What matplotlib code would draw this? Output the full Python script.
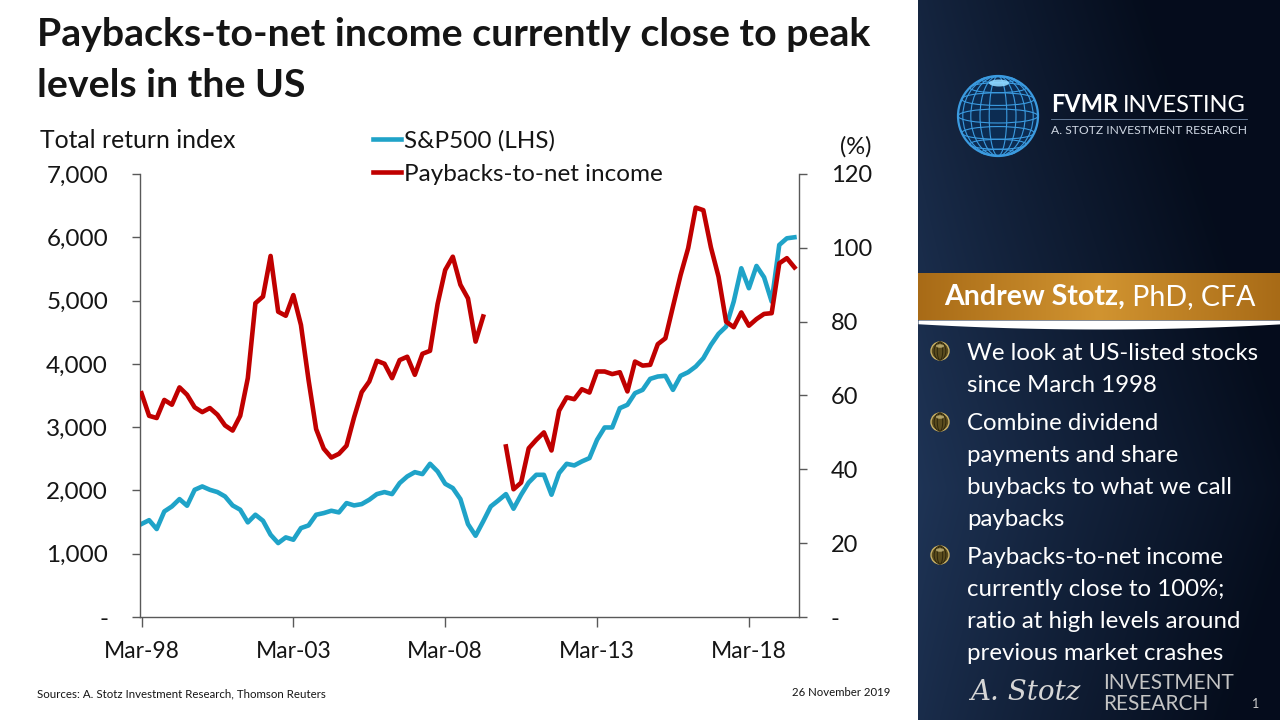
import numpy as np
import pandas as pd
import matplotlib
matplotlib.use('Agg')
import matplotlib.pyplot as plt
from matplotlib.patches import Circle, Ellipse
from matplotlib.lines import Line2D

# ---------------- data ----------------
quarters = pd.period_range('1998Q1', '2019Q3', freq='Q')

sp500 = [1470, 1530, 1390, 1668, 1747, 1863, 1758, 2010, 2063, 2010,
         1974, 1905, 1763, 1695, 1495, 1616, 1521, 1300, 1168, 1258,
         1221, 1405, 1447, 1616, 1642, 1679, 1653, 1800, 1763, 1784,
         1853, 1942, 1974, 1942, 2116, 2221, 2289, 2258, 2421, 2300,
         2105, 2037, 1863, 1468, 1284, 1510, 1747, 1842, 1942, 1711,
         1932, 2126, 2247, 2247, 1932, 2274, 2421, 2395, 2458, 2511,
         2800, 2995, 2995, 3300, 3353, 3537, 3589, 3763, 3800, 3811,
         3589, 3811, 3868, 3958, 4089, 4300, 4474, 4589, 4984, 5511,
         5195, 5547, 5368, 4984, 5879, 5984, 6000]

paybacks = [60.6, 54.5, 53.9, 58.8, 57.5, 62.2, 60.2, 56.8, 55.5, 56.6,
            54.8, 51.9, 50.5, 54.5, 64.7, 85.0, 86.8, 97.8, 82.7, 81.6,
            87.2, 79.1, 64.2, 50.9, 45.6, 43.2, 44.2, 46.4, 54.1, 60.9,
            63.8, 69.4, 68.6, 64.7, 69.6, 70.5, 65.6, 71.3, 72.1, 84.8,
            94.0, 97.6, 90.0, 86.3, 74.6, 81.4, np.nan, np.nan, 46.2, 34.6,
            36.4, 45.7, 48.0, 50.0, 45.1, 55.9, 59.5, 59.0, 61.7, 60.8,
            66.5, 66.5, 65.8, 66.3, 61.1, 69.2, 68.1, 68.3, 73.9, 75.5,
            84.1, 92.6, 99.9, 110.9, 110.2, 100.1, 92.2, 80.0, 78.5, 82.5,
            78.9, 80.7, 82.1, 82.3, 95.8, 97.2, 94.7]

series_names = ['S&P500 (LHS)', 'Paybacks-to-net income']
x_tick_quarters = ['1998Q1', '2003Q1', '2008Q1', '2013Q1', '2018Q1']
left_ticks = [0, 1000, 2000, 3000, 4000, 5000, 6000, 7000]
left_labels = ['-', '1,000', '2,000', '3,000', '4,000', '5,000', '6,000', '7,000']
right_ticks = [0, 20, 40, 60, 80, 100, 120]
right_labels = ['-', '20', '40', '60', '80', '100', '120']

title_lines = ['Paybacks-to-net income currently close to peak', 'levels in the US']
bullets = [
    ['We look at US-listed stocks', 'since March 1998'],
    ['Combine dividend', 'payments and share', 'buybacks to what we call', 'paybacks'],
    ['Paybacks-to-net income', 'currently close to 100%;', 'ratio at high levels around',
     'previous market crashes'],
]

# ---------------- figure ----------------
W, H = 1280, 720
plt.rcParams['font.family'] = ['Lato', 'DejaVu Sans']
fig = plt.figure(figsize=(12.8, 7.2), dpi=100)
fig.patch.set_facecolor('white')

TEAL = '#1FA3C8'
RED = '#C00000'
AXC = '#595959'
TXT = '#151515'

def fx(x):
    return x / W

def fy(y):
    return 1 - y / H

# decoration layer in pixel coordinates
deco = fig.add_axes([0, 0, 1, 1], zorder=0)
deco.axis('off')

# right panel gradient
PX0 = 918
nx, ny = 240, 240
xx = np.linspace(0, 1, nx)[None, :]
yy = np.linspace(0, 1, ny)[:, None]
light = np.array([0.13, 0.22, 0.36])
dark = np.array([0.02, 0.05, 0.11])
t = np.clip(0.10 + 0.85 * xx ** 0.9 + 0.50 * np.abs(yy - 0.68), 0, 1)
img = light[None, None, :] * (1 - t[..., None]) + dark[None, None, :] * t[..., None]
deco.imshow(img, extent=(PX0, W, H, 0), aspect='auto', zorder=0, interpolation='bilinear')

# orange name bar
ob = np.linspace(0, 1, 200)[None, :]
c1 = np.array([0.66, 0.42, 0.09])
c2 = np.array([0.82, 0.58, 0.19])
tt = 1 - np.abs(ob - 0.5) * 2
oimg = (c1[None, None, :] * (1 - tt[..., None]) + c2[None, None, :] * tt[..., None])
oimg = np.repeat(oimg, 10, axis=0)
deco.imshow(oimg, extent=(PX0, W, 320, 273), aspect='auto', zorder=1, interpolation='bilinear')

# white swoosh under bar
xs = np.linspace(PX0, W, 200)
deco.fill_between(xs, 320, 322 + 7 * np.clip(1 - ((xs - 1100) / 210) ** 2, 0, 1),
                  color='white', zorder=2, lw=0)

# globe logo
gcx, gcy, gr = 998, 116, 40
gcol = '#3b9be0'
deco.add_patch(Circle((gcx, gcy), gr, fc='#0c2c52', ec=gcol, lw=1.6, zorder=3))
for k in [0.22, 0.45, 0.68, 0.88]:
    deco.add_patch(Ellipse((gcx, gcy), 2 * gr * k, 2 * gr, fill=False, ec=gcol, lw=0.8, zorder=3))
for lat in np.deg2rad([-65, -45, -25, 0, 25, 45, 65]):
    hw = gr * np.cos(lat)
    yl = gcy + gr * np.sin(lat)
    deco.add_patch(Ellipse((gcx, yl), 2 * hw, 0.35 * hw, fill=False, ec=gcol, lw=0.8, zorder=3))
deco.add_patch(Ellipse((gcx + 1, gcy - 33), 20, 7, fc='#8fd8ff', ec='none', alpha=0.9, zorder=4))

# bullet icons
def bullet_icon(cx, cy):
    deco.add_patch(Circle((cx, cy), 9, fc='#5a4c1e', ec='#c8b064', lw=1.0, zorder=3))
    for k in [0.3, 0.65]:
        deco.add_patch(Ellipse((cx, cy), 18 * k, 18, fill=False, ec='#2e260c', lw=0.7, zorder=3))
    deco.add_patch(Ellipse((cx, cy - 5), 8, 3.5, fc='#d9c98a', ec='none', alpha=0.7, zorder=4))

deco.set_xlim(0, W)
deco.set_ylim(H, 0)

# ---------------- chart ----------------
ax = fig.add_axes([fx(140), fy(617), (799 - 140) / W, (617 - 174) / H], zorder=2)
ax.patch.set_alpha(0)
x = np.arange(len(quarters))
l1, = ax.plot(x, sp500, color=TEAL, lw=3.3, solid_joinstyle='round', label=series_names[0])
ax.set_ylim(0, 7000)
ax.set_xlim(-0.2, 86.6)
ax2 = ax.twinx()
l2, = ax2.plot(x, paybacks, color=RED, lw=3.3, solid_joinstyle='round', label=series_names[1])
ax2.set_ylim(0, 120)

xt = [list(quarters.astype(str)).index(q) for q in x_tick_quarters]
ax.set_xticks(xt)
ax.set_xticklabels([quarters[i].strftime('Mar-%y') for i in xt])
ax.set_yticks(left_ticks)
ax.set_yticklabels(left_labels)
ax2.set_yticks(right_ticks)
ax2.set_yticklabels(right_labels)

for a in (ax, ax2):
    a.spines['top'].set_visible(False)
    for s in a.spines.values():
        s.set_color(AXC)
        s.set_linewidth(1.0)
ax.spines['right'].set_visible(False)
ax2.spines['left'].set_visible(False)
ax2.spines['bottom'].set_visible(False)

ax.tick_params(axis='y', direction='out', length=6, width=1, color=AXC, pad=17,
               labelsize=17.5, labelcolor=TXT)
ax.tick_params(axis='x', direction='out', length=7, width=1, color=AXC, pad=10,
               labelsize=16.5, labelcolor=TXT)
ax2.tick_params(axis='y', direction='out', length=6, width=1, color=AXC, pad=17,
                labelsize=17, labelcolor=TXT)

leg = ax2.legend([l1, l2], series_names, loc='upper left',
                 bbox_to_anchor=(fx(373), fy(130)), bbox_transform=fig.transFigure,
                 frameon=False, handlelength=1.15, handletextpad=0.12, labelspacing=0.5,
                 fontsize=17.5, borderpad=0, borderaxespad=0)
for txt in leg.get_texts():
    txt.set_color(TXT)

fig.text(fx(40), fy(148), 'Total return index', fontsize=17.8, color=TXT, va='baseline')
fig.text(fx(856), fy(147), '(%)', fontsize=17, color=TXT, va='center', ha='center')

# ---------------- titles and texts ----------------
fig.text(fx(37), fy(46), title_lines[0], fontsize=28.3, fontweight='bold', color=TXT, va='baseline')
fig.text(fx(37), fy(97), title_lines[1], fontsize=28.3, fontweight='bold', color=TXT, va='baseline')

fig.text(fx(37), fy(694), 'Sources: A. Stotz Investment Research, Thomson Reuters',
         fontsize=8.3, color=TXT, va='center')
fig.text(fx(890), fy(692), '26 November 2019', fontsize=8.2, color=TXT, va='center', ha='right')

renderer = fig.canvas.get_renderer()

# FVMR INVESTING
t1 = deco.text(1051, 105, 'FVMR', fontsize=17, fontweight='bold', color='white', va='center', zorder=5)
w1 = t1.get_window_extent(renderer).width
deco.text(1051 + w1 + 5, 105, 'INVESTING', fontsize=17, color='white', va='center', zorder=5)
deco.plot([1051, 1247], [119, 119], color='#6f87a6', lw=0.6, zorder=5)
deco.text(1149, 130, 'A. STOTZ INVESTMENT RESEARCH', fontsize=8.7, color='#d0d8e4',
          va='center', ha='center', zorder=5)

# name bar text
tn1 = deco.text(0, 297, 'Andrew Stotz,', fontsize=20.5, fontweight='bold', color='white', va='center', zorder=5)
tn2 = deco.text(0, 297, ' PhD, CFA', fontsize=20.5, color='white', va='center', zorder=5)
wa = tn1.get_window_extent(renderer).width
wb = tn2.get_window_extent(renderer).width
start = 1100 - (wa + wb) / 2
tn1.set_x(start)
tn2.set_x(start + wa)

# bullets
line_y = [353, 385, 424, 456, 488, 519, 557, 589, 621, 653]
k = 0
for group in bullets:
    bullet_icon(940, line_y[k] - 2)
    for line in group:
        deco.text(967, line_y[k], line, fontsize=17.3, color='white', va='center', zorder=5)
        k += 1

# bottom logo
deco.text(1025, 692, 'A. Stotz', family='DejaVu Serif', style='italic', fontsize=20,
          color='#d6d6d6', ha='center', va='center', zorder=5)
deco.text(1103, 683, 'INVESTMENT', fontsize=15, color='#c4c4c4', va='center', zorder=5)
deco.text(1103, 704, 'RESEARCH', fontsize=15, color='#c4c4c4', va='center', zorder=5)
deco.text(1252, 704, '1', fontsize=9, color='#cfcfcf', va='center', zorder=5)

fig.savefig('out.png', dpi=100, facecolor=fig.get_facecolor())
